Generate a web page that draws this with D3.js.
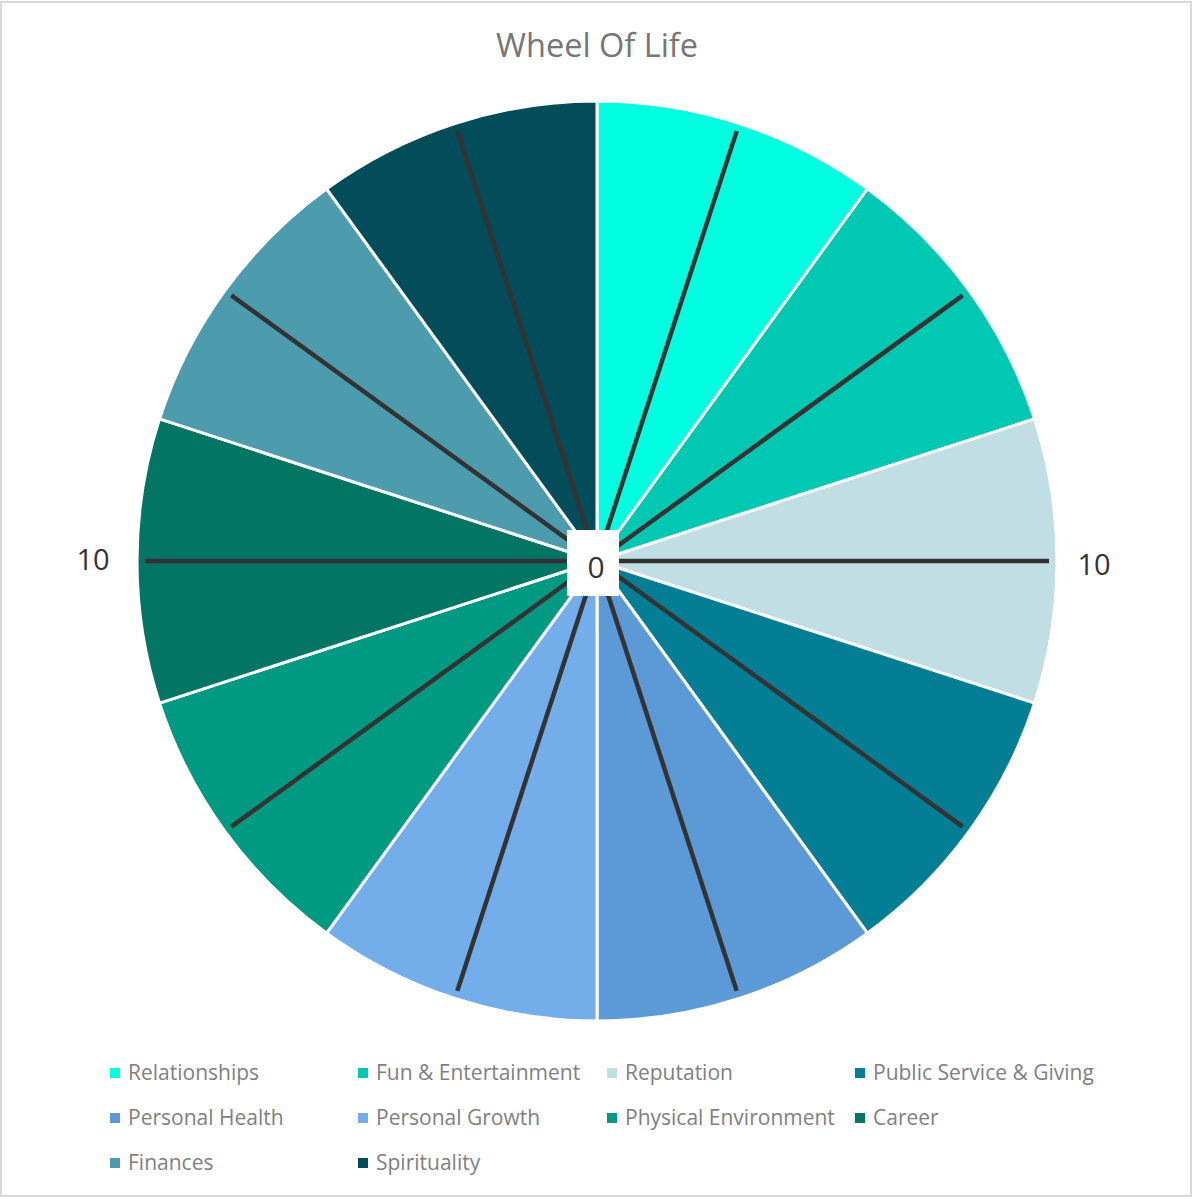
<!DOCTYPE html>
<html>
<head>
<meta charset="utf-8">
<script src="https://cdn.jsdelivr.net/npm/d3@7"></script>
<style>
  body { margin: 0; background: #fff; }
  text { font-family: "Open Sans", sans-serif; }
</style>
</head>
<body>
<script>
const title = "Wheel Of Life";

// data
const categories = ["Relationships", "Fun & Entertainment", "Reputation", "Public Service & Giving",
  "Personal Health", "Personal Growth", "Physical Environment", "Career", "Finances", "Spirituality"];
const shares = [1, 1, 1, 1, 1, 1, 1, 1, 1, 1];
const scores = [10, 10, 10, 10, 10, 10, 10, 10, 10, 10];
const colors = ["#00FFE1", "#00C8B3", "#C0DEE3", "#037E94", "#5B9AD6",
  "#73ADEA", "#009A82", "#027565", "#4D9CAE", "#034C59"];
const axisTicks = [0, 10];

//size of svg
const canvWidth = 1193;
const canvHeight = 1199;
const cx = 597, cy = 561;
const outerR = 460;

const svg = d3.select("body").append("svg")
  .attr("width", canvWidth)
  .attr("height", canvHeight);

//frame
svg.append("rect")
  .attr("x", 1).attr("y", 2)
  .attr("width", 1190).attr("height", 1194)
  .attr("fill", "#fff")
  .attr("stroke", "#d9d9d9")
  .attr("stroke-width", 2);

//title
svg.append("text")
  .attr("x", cx)
  .attr("y", 57)
  .attr("text-anchor", "middle")
  .attr("font-size", 32.5)
  .attr("fill", "#767676")
  .text(title);

const g = svg.append("g")
  .attr("transform", `translate(${cx},${cy})`);

//**************************************************************************
//pie wedges
const pie = d3.pie().sort(null).value(d => d.share);
const arc = d3.arc().innerRadius(0).outerRadius(outerR);
const pieData = pie(categories.map((c, i) => ({name: c, share: shares[i], color: colors[i]})));

g.selectAll("path.wedge")
  .data(pieData)
  .enter().append("path")
  .attr("class", "wedge")
  .attr("d", arc)
  .attr("fill", d => d.data.color)
  .attr("stroke", "#fff")
  .attr("stroke-width", 3);

//**************************************************************************
//radar spokes
const angle = d3.scaleBand().domain(categories).range([0, 2 * Math.PI]);
const rScale = d3.scaleLinear().domain([0, 10]).range([0, 452]);

g.selectAll("line.spoke")
  .data(categories)
  .enter().append("line")
  .attr("class", "spoke")
  .attr("x1", 0).attr("y1", 0)
  .attr("x2", (d, i) => rScale(scores[i]) * Math.sin(angle(d) + angle.bandwidth() / 2))
  .attr("y2", (d, i) => -rScale(scores[i]) * Math.cos(angle(d) + angle.bandwidth() / 2))
  .attr("stroke", "#333333")
  .attr("stroke-width", 4.5);

//center label box
g.append("rect")
  .attr("x", -30).attr("y", -31)
  .attr("width", 52).attr("height", 66)
  .attr("fill", "#fff");

g.append("text")
  .attr("x", -1).attr("y", 6)
  .attr("dy", "0.35em")
  .attr("text-anchor", "middle")
  .attr("font-size", 30)
  .attr("fill", "#333")
  .text(axisTicks[0]);

//"10" labels left and right
const labelR = rScale(axisTicks[1]) + 45;
[-1, 1].forEach(s => {
  g.append("text")
    .attr("x", s * labelR - (s < 0 ? 7 : 0))
    .attr("y", s < 0 ? -1 : 4)
    .attr("dy", "0.35em")
    .attr("text-anchor", "middle")
    .attr("font-size", 29)
    .attr("fill", "#333")
    .text(axisTicks[1]);
});

//**************************************************************************
//legend
const legendX = [110, 358, 607, 855];
const legendY = [1073, 1118, 1163];

const legend = svg.selectAll("g.legend-item")
  .data(categories)
  .enter().append("g")
  .attr("class", "legend-item")
  .attr("transform", (d, i) => `translate(${legendX[i % 4]},${legendY[Math.floor(i / 4)]})`);

legend.append("rect")
  .attr("x", 0).attr("y", -5)
  .attr("width", 10).attr("height", 10)
  .attr("fill", (d, i) => colors[i]);

legend.append("text")
  .attr("x", 18)
  .attr("y", 0)
  .attr("dy", "0.35em")
  .attr("font-size", 21)
  .attr("fill", "#7f7f7f")
  .text(d => d);
</script>
</body>
</html>
